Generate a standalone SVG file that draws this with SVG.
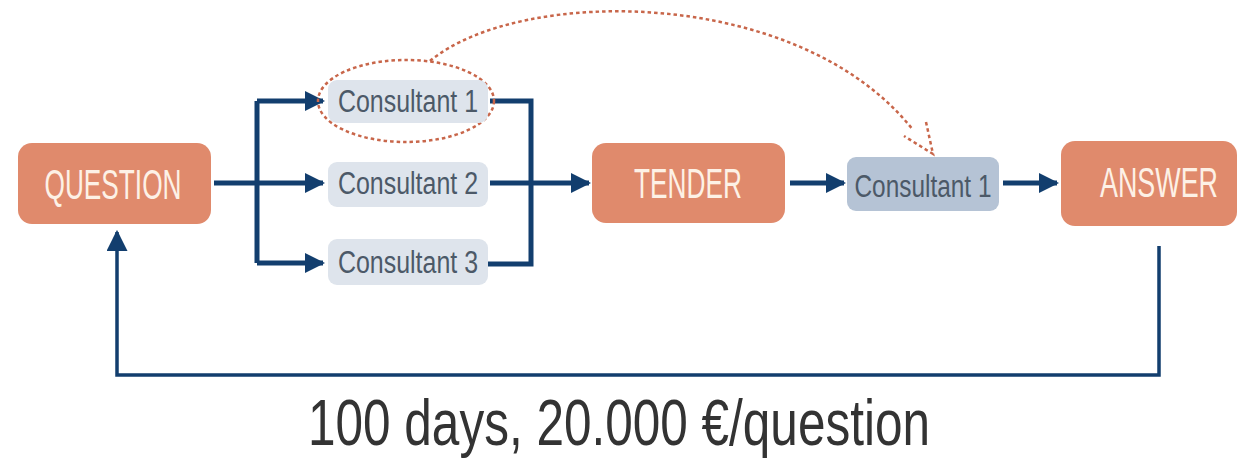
<svg xmlns="http://www.w3.org/2000/svg" width="1238" height="461" viewBox="0 0 1238 461">
<defs>
<style>
.main{fill:#E08A6C;}
.mt{fill:#FDF1E6;font-family:"Liberation Sans",Arial,sans-serif;font-size:42px;text-anchor:middle;}
.cons{fill:#DEE4EC;}
.cons2{fill:#B5C3D5;}
.ct{fill:#4C5968;font-family:"Liberation Sans",Arial,sans-serif;font-size:31px;text-anchor:middle;}
.ln{fill:none;stroke:#123E6E;stroke-width:5;}
.fb{fill:none;stroke:#123E6E;stroke-width:3.5;}
.dash{fill:none;stroke:#C8664A;stroke-width:2.5;stroke-dasharray:3.5 3;}
</style>
<marker id="ah" viewBox="0 0 10 10" refX="9" refY="5" markerWidth="4" markerHeight="4" markerUnits="strokeWidth" orient="auto">
<path d="M0,0 L10,5 L0,10 z" fill="#123E6E"/>
</marker>
<marker id="ah2" viewBox="0 0 10 10" refX="9" refY="5" markerWidth="6" markerHeight="6" markerUnits="strokeWidth" orient="auto">
<path d="M0,0 L10,5 L0,10 z" fill="#123E6E"/>
</marker>
</defs>
<rect width="1238" height="461" fill="#FFFFFF"/>
<g id="connectors">
<path class="ln" d="M214,183 H323" marker-end="url(#ah)"/>
<path class="ln" d="M257,101 V263"/>
<path class="ln" d="M257,101 H323" marker-end="url(#ah)"/>
<path class="ln" d="M257,263 H323" marker-end="url(#ah)"/>
<path class="ln" d="M490,101 H531 V264 H488"/>
<path class="ln" d="M490,183 H589" marker-end="url(#ah)"/>
<path class="ln" d="M790,183 H844" marker-end="url(#ah)"/>
<path class="ln" d="M1003,183 H1057" marker-end="url(#ah)"/>
<path class="fb" d="M1159,246 V375 H117 V232" marker-end="url(#ah2)"/>
<ellipse class="dash" cx="406" cy="101" rx="88" ry="41"/>
<path class="dash" d="M430,61 C520,-14 800,-14 913,130"/>
<path class="dash" d="M926,122 L933,154 L904,136"/>
</g>
<g id="question">
<rect class="main" x="18" y="143" width="193" height="81" rx="14"/>
<text class="mt" x="113" y="199" textLength="137" lengthAdjust="spacingAndGlyphs">QUESTION</text>
</g>
<g id="consultant1">
<rect class="cons" x="328" y="80" width="160" height="43" rx="9"/>
<text class="ct" x="408" y="112" textLength="140" lengthAdjust="spacingAndGlyphs">Consultant 1</text>
</g>
<g id="consultant2">
<rect class="cons" x="328" y="162" width="160" height="45" rx="9"/>
<text class="ct" x="408" y="194" textLength="140" lengthAdjust="spacingAndGlyphs">Consultant 2</text>
</g>
<g id="consultant3">
<rect class="cons" x="328" y="239" width="160" height="46" rx="9"/>
<text class="ct" x="408" y="273" textLength="140" lengthAdjust="spacingAndGlyphs">Consultant 3</text>
</g>
<g id="tender">
<rect class="main" x="592" y="143" width="193" height="80" rx="14"/>
<text class="mt" x="688" y="198" textLength="108" lengthAdjust="spacingAndGlyphs">TENDER</text>
</g>
<g id="consultant1b">
<rect class="cons2" x="847" y="157" width="152" height="54" rx="9"/>
<text class="ct" x="923" y="197" font-size="35" textLength="137" lengthAdjust="spacingAndGlyphs">Consultant 1</text>
</g>
<g id="answer">
<rect class="main" x="1061" y="141" width="176" height="85" rx="14"/>
<text class="mt" transform="translate(1159,197) scale(0.64,1)" x="0" y="0">ANSWER</text>
</g>
<g id="caption">
<text x="619" y="445" fill="#333333" font-family="'Liberation Sans',Arial,sans-serif" font-size="65" text-anchor="middle" textLength="622" lengthAdjust="spacingAndGlyphs">100 days, 20.000 €/question</text>
</g>
</svg>
